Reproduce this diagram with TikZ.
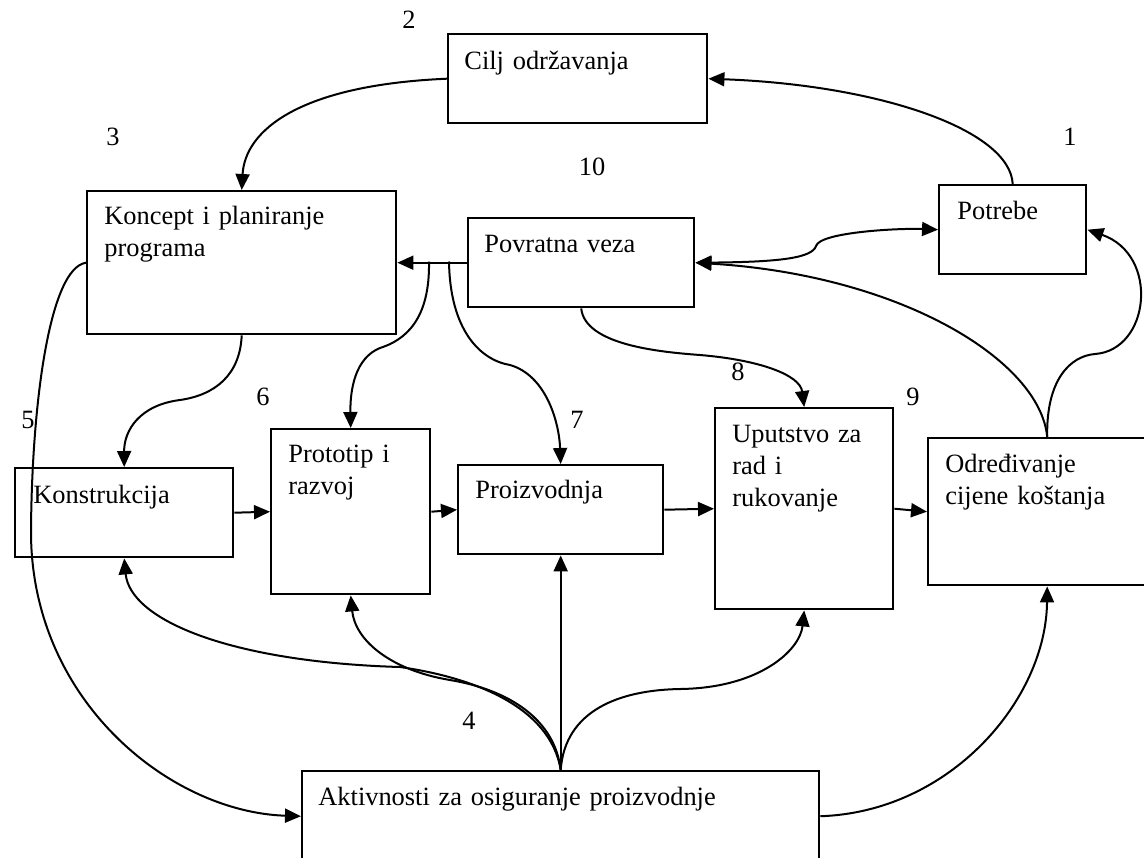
\documentclass[tikz,border=0pt]{standalone}
\usepackage{fontspec}
\setmainfont{Liberation Serif}
\usetikzlibrary{arrows.meta}
\begin{document}
\begin{tikzpicture}[x=0.5pt,y=-0.5pt,
  box/.style n args={2}{draw, line width=1.2pt, anchor=north west, inner sep=0pt,
    minimum width=#1*0.5pt, minimum height=#2*0.5pt},
  lbl/.style={font=\fontsize{13.2}{16}\selectfont, inner sep=0pt, anchor=base west,
    align=left, text width=150pt},
  num/.style={font=\fontsize{13.2}{16}\selectfont, inner sep=0pt},
  wire/.style={line width=1pt},
  link/.style={wire, -{Triangle[length=8pt,width=7pt]}},
  biglink/.style={wire, {Triangle[length=8pt,width=7pt]}-{Triangle[length=8pt,width=7pt]}},
]
\useasboundingbox (0,0) rectangle (1144,857);
\clip (0,0) rectangle (1144,857);

% boxes
\node[box={259}{89}]  (cilj)     at (447,33)  {};
\node[box={309}{143}] (koncept)  at (86,190)  {};
\node[box={226}{89}]  (povratna) at (467,217) {};
\node[box={147}{89}]  (potrebe)  at (938,184) {};
\node[box={218}{89}]  (konstr)   at (14,467)  {};
\node[box={159}{165}] (prototip) at (270,428) {};
\node[box={205}{89}]  (proizv)   at (457,464) {};
\node[box={178}{201}] (uputstvo) at (714,407) {};
\node[box={238}{147}] (odredj)   at (927,437) {};
\node[box={517}{90}]  (aktiv)    at (301,770) {};

% box texts
\node[lbl] (t-cilj)     at (464,69)  {Cilj održavanja};
\node[lbl] (t-koncept)  at (104,224) {Koncept i planiranje\\programa};
\node[lbl] (t-povratna) at (484,252) {Povratna veza};
\node[lbl] (t-potrebe)  at (957,219) {Potrebe};
\node[lbl] (t-konstr)   at (33,503)  {Konstrukcija};
\node[lbl] (t-prototip) at (288,462) {Prototip i\\razvoj};
\node[lbl] (t-proizv)   at (475,498) {Proizvodnja};
\node[lbl] (t-uputstvo) at (732,442) {Uputstvo za\\rad i\\rukovanje};
\node[lbl] (t-odredj)   at (945,472) {Određivanje\\cijene koštanja};
\node[lbl, text width=300pt] (t-aktiv) at (318,805) {Aktivnosti za osiguranje proizvodnje};

% step numbers
\node[num] (n1)  at (1070,137) {1};
\node[num] (n2)  at (409,20)   {2};
\node[num] (n3)  at (113,137)  {3};
\node[num] (n4)  at (469,721)  {4};
\node[num] (n5)  at (28,420)   {5};
\node[num] (n6)  at (263,397)  {6};
\node[num] (n7)  at (577,420)  {7};
\node[num] (n8)  at (738,372)  {8};
\node[num] (n9)  at (913,397)  {9};
\node[num] (n10) at (592,167)  {10};

% top loop
\draw[link] (potrebe.north) .. controls (1010,130) and (880,85) .. (cilj.east);
\draw[link] (cilj.west) .. controls (300,85) and (245,130) .. (koncept.north);
\draw[link] (koncept.south) .. controls (240,375) and (215,395) .. (180,400)
  .. controls (140,405) and (124,430) .. (konstr.north);

% feedback branches
\coordinate (br1) at (429,261.5);
\coordinate (br2) at (449,261.5);
\draw[link] (povratna.west) -- (koncept.east);
\draw[link] (br1) .. controls (430,320) and (405,340) .. (380,348)
  .. controls (355,358) and (350,390) .. (prototip.north);
\draw[link] (br2) .. controls (450,330) and (480,360) .. (510,365)
  .. controls (545,375) and (559,420) .. (proizv.north);
\draw[link] (povratna.south) .. controls (585,345) and (660,352) .. (700,355)
  .. controls (760,360) and (800,375) .. (uputstvo.north);
\draw[biglink] (povratna.east) .. controls (780,262) and (812,258) .. (816,246)
  .. controls (820,232) and (900,228) .. (potrebe.west);

% from cost estimation
\draw[link] (odredj.north) .. controls (1040,360) and (900,275) .. (povratna.east);
\draw[link] (odredj.north) .. controls (1046,380) and (1070,356) .. (1095,354)
  .. controls (1150,350) and (1160,255) .. (potrebe.east);

% main chain
\draw[link] (konstr.east) -- (prototip.west);
\draw[link] (prototip.east) -- (proizv.west);
\draw[link] (proizv.east) -- (uputstvo.west);
\draw[link] (uputstvo.east) -- (odredj.west);

% production support fan
\draw[link] (aktiv.north) -- (proizv.south);
\draw[link] (aktiv.north) .. controls (555,720) and (510,690) .. (450,680)
  .. controls (390,670) and (355,640) .. (prototip.south);
\draw[link] (aktiv.north) .. controls (550,705) and (470,677) .. (400,667)
  .. controls (230,662) and (130,620) .. (konstr.south);
\draw[link] (aktiv.north) .. controls (565,710) and (620,690) .. (680,689)
  .. controls (760,688) and (800,650) .. (uputstvo.south);
\draw[link] (aktiv.east) .. controls (950,812) and (1046,700) .. (odredj.south);
\draw[link] (koncept.west) .. controls (50,268) and (32,400) .. (31,530)
  .. controls (30,700) and (170,812) .. (aktiv.west);
\end{tikzpicture}
\end{document}
